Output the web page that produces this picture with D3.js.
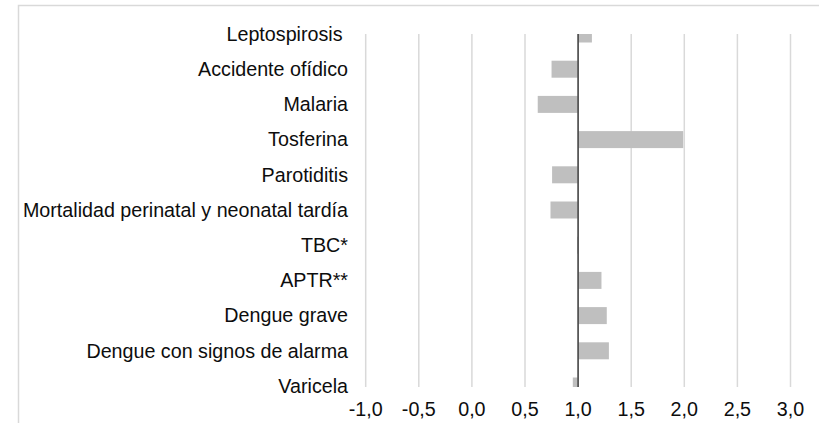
<!DOCTYPE html>
<html lang="es">
<head>
    <meta charset="UTF-8">
    <title>Razón de notificación</title>
    <script src="https://d3js.org/d3.v7.min.js"></script>
    <style>
        body {
            margin: 0;
            background: #fff;
            font-family: 'Liberation Sans', Arial, sans-serif;
        }
        .grid line {
            stroke: #d9d9d9;
            stroke-width: 1.5px;
        }
        .label {
            font-size: 19.7px;
            fill: #0d0d0d;
            white-space: pre;
        }
        .axis text {
            font-size: 19.7px;
            fill: #0d0d0d;
        }
    </style>
</head>
<body>
    <div id="chart"></div>
    <script>
        const categories = [
            "Leptospirosis ",
            "Accidente ofídico",
            "Malaria",
            "Tosferina",
            "Parotiditis",
            "Mortalidad perinatal y neonatal tardía",
            "TBC*",
            "APTR**",
            "Dengue grave",
            "Dengue con signos de alarma",
            "Varicela"
        ];
        const values = [1.13, 0.75, 0.62, 1.99, 0.755, 0.74, 0.99, 1.22, 1.27, 1.29, 0.95];
        const xTicks = [-1.0, -0.5, 0.0, 0.5, 1.0, 1.5, 2.0, 2.5, 3.0];
        const baseline = 1.0;

        const width = 819, height = 423;
        const plot = { left: 365.7, right: 790.5, top: 34, bottom: 387 };

        const svg = d3.select("#chart").append("svg")
            .attr("width", width)
            .attr("height", height);

        // chart frame
        svg.append("rect")
            .attr("x", 18.5).attr("y", 5.5)
            .attr("width", 820).attr("height", 440)
            .attr("fill", "none")
            .attr("stroke", "#d9d9d9")
            .attr("stroke-width", 1.5);

        const x = d3.scaleLinear()
            .domain([-1, 3])
            .range([plot.left, plot.right]);

        const y = d3.scalePoint()
            .domain(categories)
            .range([plot.top, plot.bottom - 1]);

        // vertical gridlines
        svg.append("g")
            .attr("class", "grid")
            .selectAll("line")
            .data(xTicks)
            .join("line")
            .attr("x1", d => x(d))
            .attr("x2", d => x(d))
            .attr("y1", plot.top)
            .attr("y2", plot.bottom);

        svg.append("clipPath")
            .attr("id", "plot-clip")
            .append("rect")
            .attr("x", plot.left - 5)
            .attr("y", plot.top)
            .attr("width", plot.right - plot.left + 10)
            .attr("height", plot.bottom - plot.top);

        const barH = 17;
        svg.append("g")
            .attr("clip-path", "url(#plot-clip)")
            .selectAll("rect")
            .data(values)
            .join("rect")
            .attr("x", d => x(Math.min(d, baseline)))
            .attr("width", d => Math.abs(x(d) - x(baseline)))
            .attr("y", (d, i) => y(categories[i]) - barH / 2)
            .attr("height", barH)
            .attr("fill", "#bfbfbf");

        // baseline at 1.0
        svg.append("line")
            .attr("x1", x(baseline)).attr("x2", x(baseline))
            .attr("y1", plot.top).attr("y2", plot.bottom)
            .attr("stroke", "#404040")
            .attr("stroke-width", 1.5);

        // category labels
        svg.append("g")
            .selectAll("text")
            .data(categories)
            .join("text")
            .attr("class", "label")
            .attr("x", 348)
            .attr("y", d => y(d))
            .attr("dy", "0.35em")
            .attr("text-anchor", "end")
            .text(d => d);

        // x axis labels
        const fmt = d => d3.format(".1f")(d).replace("−", "-").replace(".", ",");
        svg.append("g")
            .attr("class", "axis")
            .selectAll("text")
            .data(xTicks)
            .join("text")
            .attr("x", d => x(d))
            .attr("y", 416)
            .attr("text-anchor", "middle")
            .text(fmt);
    </script>
</body>
</html>
